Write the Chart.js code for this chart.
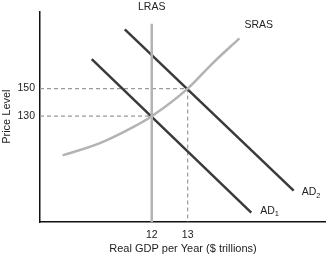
<!DOCTYPE html>
<html>
<head>
<meta charset="utf-8">
<script src="https://cdn.jsdelivr.net/npm/chart.js@4.4.0/dist/chart.umd.min.js"></script>
<style>
  html, body { margin: 0; padding: 0; background: #fff; }
  #wrap { width: 326px; height: 257px; }
</style>
</head>
<body>
<div id="wrap"><canvas id="c"></canvas></div>
<script>
// curves (GDP in $ trillions, price level)
const ad1X = [10.33, 14.77];
const ad1Y = [171.3, 60.1];
const ad2X = [11.25, 15.95];
const ad2Y = [192.9, 76.1];
const srasX = [9.52, 10.56, 11.48, 12, 13, 13.7, 14.44];
const srasY = [101.6, 110.5, 122.1, 130, 150, 168.5, 186.4];
const lrasX = [12, 12];
const lrasY = [53.3, 196.9];
const xTicks = [12, 13];
const yTicks = [130, 150];
const eqX = [12, 13];
const eqY = [130, 150];

const X_MIN = 8.89, X_MAX = 16.85, Y_MIN = 53.3, Y_MAX = 206;

const pts = (xs, ys) => xs.map((x, i) => ({ x: x, y: ys[i] }));

const dark = '#3a3a3a';
const light = '#b3b3b3';
const dash = '#9a9a9a';
const font = '"Liberation Sans", Arial, sans-serif';

const datasets = [
  { data: pts(lrasX, lrasY), borderColor: light, borderWidth: 2.5 },
  { data: pts(srasX, srasY), borderColor: light, borderWidth: 2.5, tension: 0.4, cubicInterpolationMode: 'monotone' },
  { data: pts(ad1X, ad1Y), borderColor: dark, borderWidth: 2.5 },
  { data: pts(ad2X, ad2Y), borderColor: dark, borderWidth: 2.5 }
];
// dashed guides from each equilibrium to the axes
eqX.forEach((x, i) => {
  datasets.push({ data: [{ x: X_MIN, y: eqY[i] }, { x: x, y: eqY[i] }], borderColor: dash, borderWidth: 1.2, borderDash: [4, 3] });
});
datasets.push({ data: [{ x: eqX[1], y: eqY[1] }, { x: eqX[1], y: Y_MIN }], borderColor: dash, borderWidth: 1.2, borderDash: [4, 3] });
datasets.forEach(d => { d.showLine = true; d.pointRadius = 0; d.fill = false; });

const labels = {
  id: 'labels',
  afterDatasetsDraw(chart) {
    const { ctx, scales: { x, y } } = chart;
    ctx.save();
    ctx.fillStyle = '#222';
    ctx.textBaseline = 'middle';
    ctx.font = '10.5px ' + font;
    ctx.textAlign = 'center';
    ctx.fillText('LRAS', x.getPixelForValue(12), 7);
    ctx.textAlign = 'left';
    ctx.fillText('SRAS', x.getPixelForValue(14.44) + 5, 25);
    const sub = (name, n, px, py) => {
      ctx.font = '10.5px ' + font;
      ctx.fillText(name, px, py);
      const w = ctx.measureText(name).width;
      ctx.font = '7.5px ' + font;
      ctx.fillText(n, px + w, py + 3);
    };
    sub('AD', '2', x.getPixelForValue(ad2X[1]) + 8, y.getPixelForValue(ad2Y[1]) + 2);
    sub('AD', '1', x.getPixelForValue(ad1X[1]) + 9, y.getPixelForValue(ad1Y[1]) - 2);
    ctx.restore();
  }
};

new Chart(document.getElementById('c'), {
  type: 'scatter',
  data: { datasets: datasets },
  options: {
    responsive: true,
    maintainAspectRatio: false,
    animation: false,
    layout: { padding: { top: 3, right: 0, left: 0, bottom: 0 } },
    plugins: { legend: { display: false }, tooltip: { enabled: false } },
    scales: {
      x: {
        type: 'linear', min: X_MIN, max: X_MAX,
        grid: { display: false, drawTicks: false },
        border: { display: true, color: '#111', width: 1.5 },
        afterBuildTicks: s => { s.ticks = xTicks.map(v => ({ value: v })); },
        afterFit: s => { s.height = 35; },
        ticks: { color: '#222', font: { size: 10.5, family: font }, padding: 7 },
        title: { display: true, text: 'Real GDP per Year ($ trillions)', color: '#222', font: { size: 11, family: font }, padding: { top: 2, bottom: 1 } }
      },
      y: {
        type: 'linear', min: Y_MIN, max: Y_MAX,
        grid: { display: false, drawTicks: false },
        border: { display: true, color: '#111', width: 1.5 },
        afterBuildTicks: s => { s.ticks = yTicks.map(v => ({ value: v })); },
        afterFit: s => { s.width = 40; },
        ticks: { color: '#222', font: { size: 10.5, family: font }, padding: 5 },
        title: { display: true, text: 'Price Level', color: '#222', font: { size: 11, family: font }, padding: { top: 0, bottom: 0, left: 3 } }
      }
    }
  },
  plugins: [labels]
});
</script>
</body>
</html>
